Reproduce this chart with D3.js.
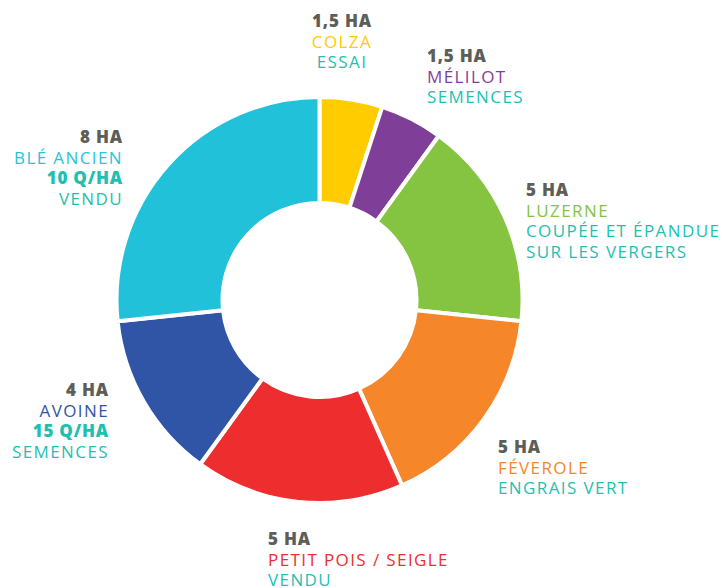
<!DOCTYPE html>
<html lang="fr">
<head>
<meta charset="UTF-8">
<script src="https://d3js.org/d3.v7.min.js"></script>
<title>Assolement</title>
<style>
  body { margin: 0; background: #fff; }
  svg { display: block; font-family: "Open Sans", sans-serif; }
</style>
</head>
<body>
<div id="chart"></div>
<script>
// cultures, dans l'ordre du cercle (sens horaire depuis midi)
var crops    = ["COLZA", "MÉLILOT", "LUZERNE", "FÉVEROLE", "PETIT POIS / SEIGLE", "AVOINE", "BLÉ ANCIEN"];
var hectares = [1.5, 1.5, 5, 5, 5, 4, 8];
var yields   = [null, null, null, null, null, "15 Q/HA", "10 Q/HA"];
var uses     = [["ESSAI"], ["SEMENCES"], ["COUPÉE ET ÉPANDUE", "SUR LES VERGERS"], ["ENGRAIS VERT"], ["VENDU"], ["SEMENCES"], ["VENDU"]];
var colors   = ["#ffcc00", "#7f3f98", "#84c441", "#f6862a", "#ee2e2e", "#3155a6", "#22c1da"];

// mise en page des étiquettes (position du bloc, ancrage)
var labelPos = [
  {x: 342, y: 27,  anchor: "middle"},
  {x: 427, y: 62,  anchor: "start"},
  {x: 526, y: 196, anchor: "start"},
  {x: 498, y: 453, anchor: "start"},
  {x: 268, y: 545, anchor: "start"},
  {x: 109, y: 396, anchor: "end"},
  {x: 123, y: 143, anchor: "end"}
];

var width = 724, height = 588,
    cx = 319.5, cy = 300,
    outerR = 203, innerR = 97,
    lineH = 20.6;

var teal = "#1fbfb1", grey = "#5e5e58";

var fr = d3.formatLocale({decimal: ",", thousands: " ", grouping: [3], currency: ["", " €"]});
var fmtHa = fr.format(",");

var svg = d3.select("#chart").append("svg")
    .attr("width", width).attr("height", height);

var pie = d3.pie().sort(null).value(function(d) { return d; });
var arc = d3.arc().innerRadius(innerR).outerRadius(outerR);

var g = svg.append("g").attr("transform", "translate(" + cx + "," + cy + ")");

g.selectAll("path")
  .data(pie(hectares))
  .enter().append("path")
  .attr("d", arc)
  .attr("fill", function(d, i) { return colors[i]; })
  .attr("stroke", "#fff")
  .attr("stroke-width", 4)
  .attr("stroke-linejoin", "miter");

// étiquettes
var labels = svg.selectAll("text.lbl")
  .data(crops)
  .enter().append("text")
  .attr("class", "lbl")
  .attr("x", function(d, i) { return labelPos[i].x; })
  .attr("y", function(d, i) { return labelPos[i].y; })
  .attr("text-anchor", function(d, i) { return labelPos[i].anchor; })
  .style("font-size", "17px");

labels.each(function(name, i) {
  var t = d3.select(this);
  var lines = [{text: fmtHa(hectares[i]) + " HA", color: grey, bold: true},
               {text: name, color: colors[i] === "#22c1da" ? "#2ac3dc" : colors[i], bold: false}];
  if (yields[i]) lines.push({text: yields[i], color: teal, bold: true});
  uses[i].forEach(function(u) { lines.push({text: u, color: teal, bold: false}); });
  lines.forEach(function(l, k) {
    t.append("tspan")
      .attr("x", labelPos[i].x)
      .attr("dy", k === 0 ? 0 : lineH)
      .attr("fill", l.color)
      .attr("font-weight", l.bold ? 800 : 400)
      .style("letter-spacing", l.bold ? "0.8px" : "1.4px")
      .text(l.text);
  });
});
</script>
</body>
</html>
